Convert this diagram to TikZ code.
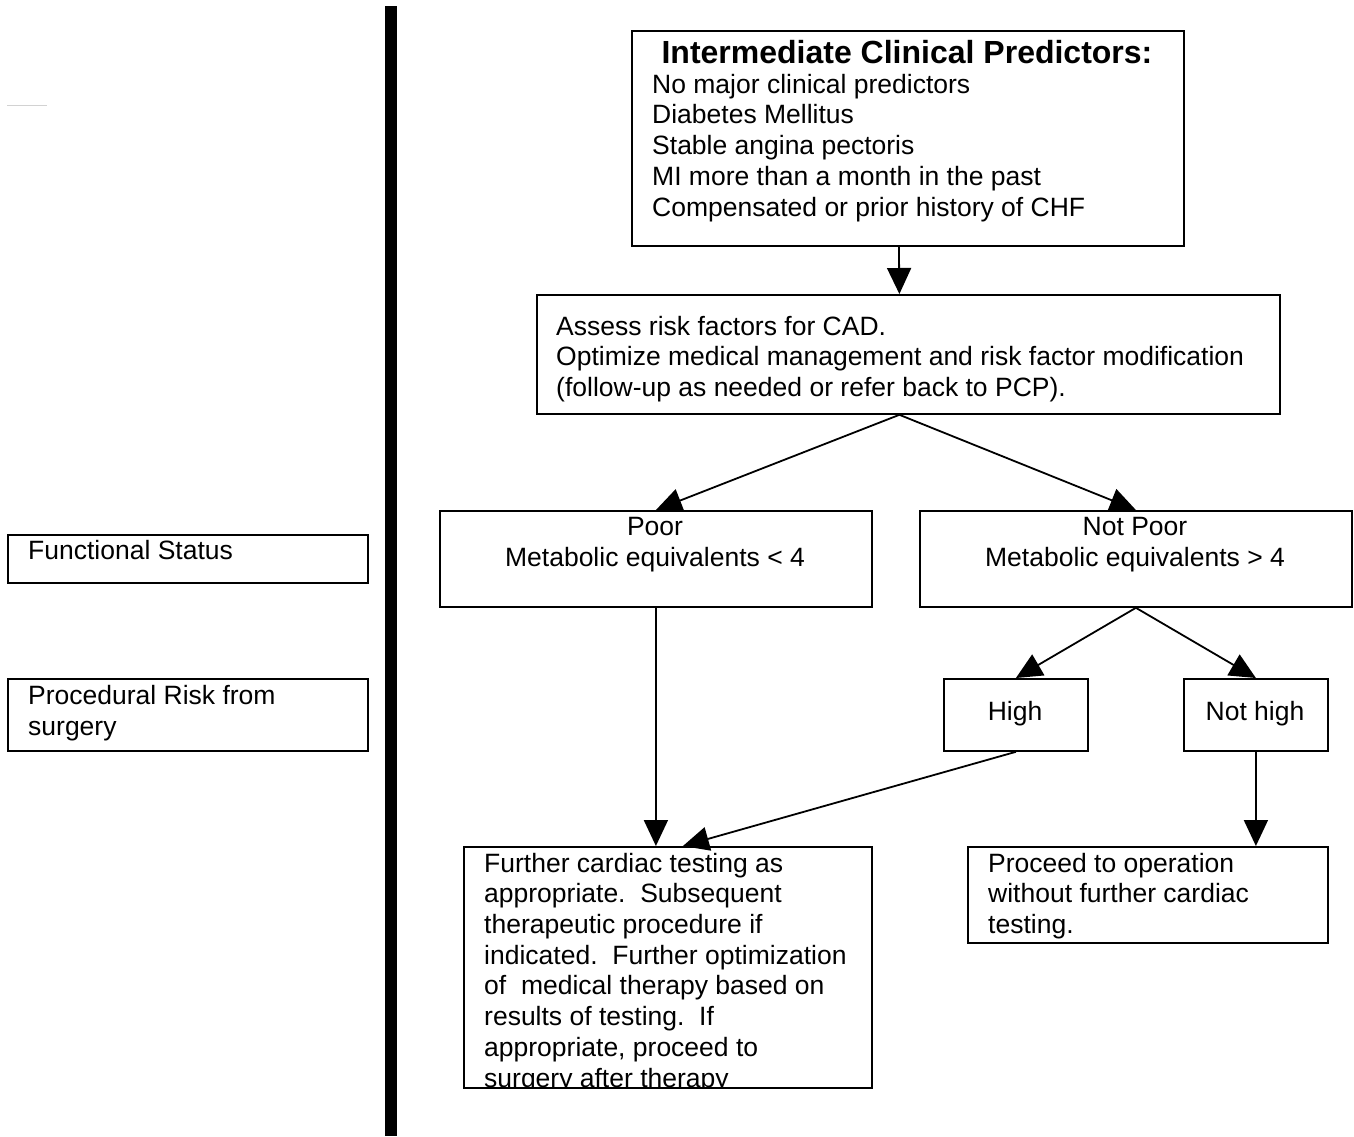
\documentclass[tikz,border=0pt]{standalone}
\usepackage{fontspec}
\setmainfont{Liberation Sans}
\usetikzlibrary{arrows.meta}
\usetikzlibrary{calc}
\tikzset{
	box/.style={draw,line width=1.8pt,anchor=north west,inner sep=0pt},
	txt/.style={inner sep=0pt,align=left,anchor=base west,
		font=\fontsize{26.5}{30.7}\selectfont},
	ctxt/.style={txt,align=center,anchor=base},
	flow/.style={line width=1.8pt,-{Triangle[length=26pt,width=24pt]}}
}

\begin{document}
\begin{tikzpicture}[x=1pt,y=-1pt]
	\useasboundingbox (0,0) rectangle (1354,1136);
	%%%%%%%%%%%%%%%
	\fill (385,6) rectangle (397,1136);
	\draw[gray!35,line width=1pt] (7,105) coordinate (g1) -- (47,105) coordinate (g2);
	%%%%%%%%%%%%%%%
	\node[box,minimum width=360,minimum height=48] (fs) at (7,534) {};
	\node[txt] (fstxt) at (28,559) {Functional Status};
	\node[box,minimum width=360,minimum height=72] (pr) at (7,678) {};
	\node[txt] (prtxt) at (28,735) {Procedural Risk from\\surgery};
	%%%%%%%%%%%%%%%
	\node[box,minimum width=552,minimum height=215] (pred) at (631,30) {};
	\node[ctxt,font=\fontsize{32}{36}\selectfont\bfseries] (predhead) at (907,63) {Intermediate Clinical Predictors:};
	\node[txt] (predtxt) at (652,216) {No major clinical predictors\\Diabetes Mellitus\\Stable angina pectoris\\MI more than a month in the past\\Compensated or prior history of CHF};
	%%%%%%%%%%%%%%%
	\node[box,minimum width=743,minimum height=119] (assess) at (536,294) {};
	\node[txt] (assesstxt) at (556,396.5) {Assess risk factors for CAD.\\Optimize medical management and risk factor modification\\(follow-up as needed or refer back to PCP).};
	%%%%%%%%%%%%%%%
	\node[box,minimum width=432,minimum height=96] (poor) at (439,510) {};
	\node[ctxt] (poortxt) at (655,566) {Poor\\Metabolic equivalents < 4};
	\node[box,minimum width=432,minimum height=96] (notpoor) at (919,510) {};
	\node[ctxt] (notpoortxt) at (1135,566) {Not Poor\\Metabolic equivalents > 4};
	%%%%%%%%%%%%%%%
	\node[box,minimum width=144,minimum height=72] (high) at (943,678) {};
	\node[ctxt] (hightxt) at (1015,720) {High};
	\node[box,minimum width=144,minimum height=72] (nothigh) at (1183,678) {};
	\node[ctxt] (nothightxt) at (1255,720) {Not high};
	%%%%%%%%%%%%%%%
	\node[box,minimum width=408,minimum height=241] (further) at (463,846) {};
	\begin{scope}
		\clip (further.north west) rectangle (further.south east);
		\node[txt] (furthertxt) at (484,1087) {Further cardiac testing as\\appropriate.\ \ Subsequent\\therapeutic procedure if\\indicated.\ \ Further optimization\\of\ \ medical therapy based on\\results of testing.\ \ If\\appropriate, proceed to\\surgery after therapy};
	\end{scope}
	\node[box,minimum width=360,minimum height=96] (proceed) at (967,846) {};
	\node[txt] (proceedtxt) at (988,933.5) {Proceed to operation\\without further cardiac\\testing.};
	%%%%%%%%%%%%%%%
	\draw[flow] ($(pred.south)+(-9,0)$) -- ($(assess.north)+(-9,0)$);
	\coordinate (split) at ($(assess.south)+(-9,0)$);
	\draw[flow] (split) -- (poor.north);
	\draw[flow] (split) -- (notpoor.north);
	\draw[flow] (notpoor.south) -- (high.north);
	\draw[flow] (notpoor.south) -- (nothigh.north);
	\draw[flow] (poor.south) -- (poor.south |- further.north);
	\draw[flow] (high.south) -- ($(further.north)+(15,0)$);
	\draw[flow] (nothigh.south) -- (nothigh.south |- proceed.north);
\end{tikzpicture}
\end{document}
